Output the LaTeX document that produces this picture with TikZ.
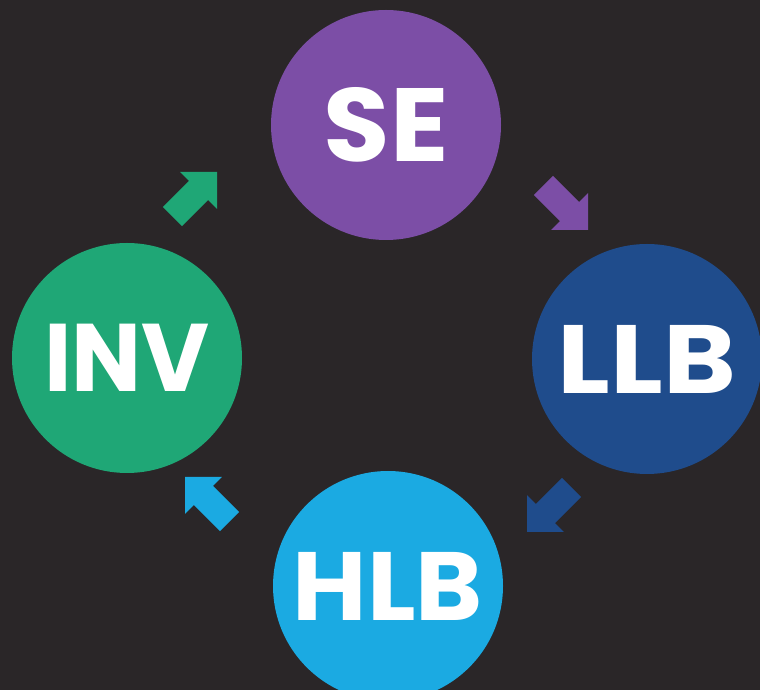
\documentclass[tikz,border=0pt]{standalone}
\usepackage{fontspec}
\setmainfont{Fira Sans}
\IfFontExistsTF{Poppins Black}{\newfontfamily\lblfont{Poppins Black}}{%
  \IfFontExistsTF{Fira Sans Black}{\newfontfamily\lblfont{Fira Sans Black}}{%
    \newfontfamily\lblfont{Fira Sans}[UprightFont=*, BoldFont=* Bold]}}
\definecolor{bgc}{HTML}{2A2628}
\definecolor{sec}{HTML}{7C4EA6}
\definecolor{invc}{HTML}{1FA776}
\definecolor{llbc}{HTML}{1F4C8C}
\definecolor{hlbc}{HTML}{1BAAE2}
\newcommand{\stagetext}[3]{{\fontsize{#1}{#1}\selectfont\scalebox{#2}[1]{#3}}}
\tikzset{
  stage/.style={circle, fill=#1, draw=none, minimum size=230pt, inner sep=0pt,
    text=white, font=\lblfont\bfseries},
  blockarrow/.pic={\fill (0,0) -- (-26,26) -- (-26,13.5) -- (-63,13.5)
    -- (-63,-13.5) -- (-26,-13.5) -- (-26,-26) -- cycle;}
}
\begin{document}
\begin{tikzpicture}[x=1pt,y=1pt]
\fill[bgc] (0,0) rectangle (760,690);
\useasboundingbox (0,0) rectangle (760,690);
\node[stage=sec]  (SE)  at (386,565) {\stagetext{104}{1.04}{SE}};
\node[stage=llbc] (LLB) at (647,331) {\stagetext{97}{1.14}{LLB}};
\node[stage=hlbc] (HLB) at (388,104) {\stagetext{97}{1.05}{HLB}};
\node[stage=invc] (INV) at (127,332) {\stagetext{96}{0.97}{INV}};
\pic[fill=invc, rotate=45]   (a1) at (217,518) {blockarrow};
\pic[fill=sec, rotate=-45]   (a2) at (588,460) {blockarrow};
\pic[fill=llbc, rotate=-135] (a3) at (527,158) {blockarrow};
\pic[fill=hlbc, rotate=135]  (a4) at (185,213) {blockarrow};
\end{tikzpicture}
\end{document}
